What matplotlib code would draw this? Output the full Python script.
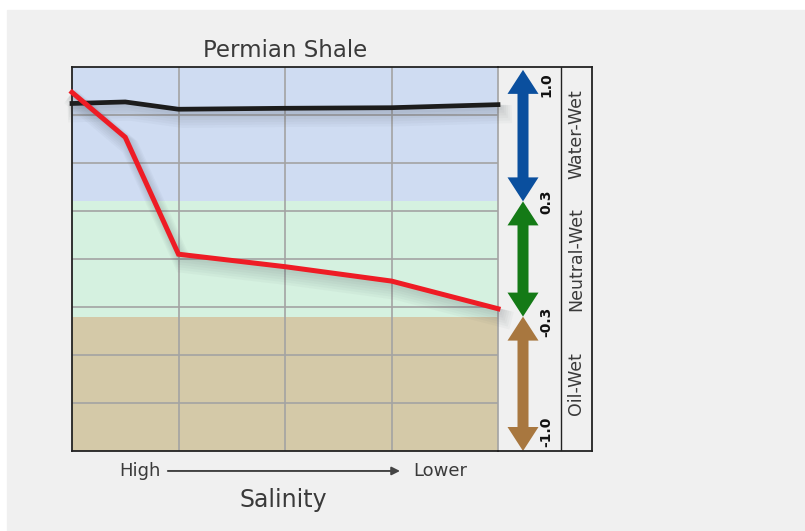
import matplotlib
matplotlib.use("Agg")
import matplotlib.pyplot as plt
import matplotlib.patheffects as pe
from matplotlib.patches import Rectangle, Polygon

# salinity steps (High -> Lower) and wettability index readings
x_pos = [0, 0.5, 1, 2, 3, 4]
black_vals = [0.81, 0.818, 0.78, 0.785, 0.788, 0.804]
red_vals = [0.868, 0.634, 0.025, -0.04, -0.115, -0.259]

# wettability bands
band_names = ["Oil-Wet", "Neutral-Wet", "Water-Wet"]
band_edges = [-1.0, -0.3, 0.3, 1.0]
band_fill = ["#d4c9a8", "#d5f1e0", "#cfdcf2"]
band_arrow = ["#a8773f", "#147a16", "#0a4f9e"]
edge_labels = ["-1.0", "-0.3", "0.3", "1.0"]

text_col = "#3a3a3a"
grid_col = "#a3a3a3"
dark = "#222222"

W, H = 805, 531
fig = plt.figure(figsize=(W / 100, H / 100), dpi=100, facecolor="white")
fig.patches.append(Rectangle((7 / W, 0), 1, 1 - 10 / H, transform=fig.transFigure,
                             color="#f0f0f0", zorder=-10))


def px_axes(x0, x1, y0, y1):
    return fig.add_axes([x0 / W, (H - y1) / H, (x1 - x0) / W, (y1 - y0) / H])


ax = px_axes(72, 498, 67, 451)
ax2 = px_axes(498, 592, 67, 451)

# main panel
ax.set_xlim(0, 4)
ax.set_ylim(-1, 1)
for lo, hi, c in zip(band_edges[:-1], band_edges[1:], band_fill):
    ax.axhspan(lo, hi, color=c, lw=0, zorder=0.5)
ax.set_xticks([1, 2, 3])
ax.set_yticks([-0.75, -0.5, -0.25, 0, 0.25, 0.5, 0.75])
ax.grid(True, color=grid_col, lw=1.2)
ax.tick_params(length=0, labelbottom=False, labelleft=False)
ax.set_facecolor("none")
for s in ["left", "top", "bottom"]:
    ax.spines[s].set_color(dark)
    ax.spines[s].set_linewidth(1.3)
ax.spines["right"].set_color(grid_col)
ax.spines["right"].set_linewidth(1.2)

# soft drop shadow built from stacked faint strokes
shadow = [pe.SimpleLineShadow(offset=(1 + k * 0.5, -2 - k * 1.0), shadow_color="#3c4650",
                              alpha=0.035, linewidth=4 + k * 1.8) for k in range(6)]
ax.plot(x_pos, black_vals, color="#1c1c1c", lw=3.4, zorder=3, clip_on=False,
        solid_joinstyle="miter", path_effects=shadow + [pe.Normal()])
ax.plot(x_pos, red_vals, color="#ee1c25", lw=3.6, zorder=4, clip_on=False,
        solid_joinstyle="miter", path_effects=shadow + [pe.Normal()])

ax.text(0.5, 1.026, "Permian Shale", transform=ax.transAxes, ha="center",
        va="baseline", fontsize=16.5, color=text_col)

ax.annotate("", xy=(0.77, -0.052), xytext=(0.225, -0.052), xycoords="axes fraction",
            arrowprops=dict(arrowstyle="-|>", color="#444444", lw=1.4,
                            mutation_scale=12, shrinkA=0, shrinkB=0))
ax.text(0.207, -0.052, "High", transform=ax.transAxes, ha="right", va="center",
        fontsize=13, color=text_col)
ax.text(0.80, -0.052, "Lower", transform=ax.transAxes, ha="left", va="center",
        fontsize=13, color=text_col)
ax.text(0.495, -0.128, "Salinity", transform=ax.transAxes, ha="center", va="center",
        fontsize=17, color=text_col)

# side scale
ax2.set_xlim(0, 94)
ax2.set_ylim(-1, 1)
ax2.set_xticks([])
ax2.set_yticks([])
ax2.set_facecolor("none")
ax2.spines["left"].set_visible(False)
for s in ["top", "bottom", "right"]:
    ax2.spines[s].set_color(dark)
    ax2.spines[s].set_linewidth(1.3)
ax2.axvline(63, color=dark, lw=1.0)

cx, hw, sw, hl = 25, 15.5, 5.5, 0.125
for lo, hi, c, name in zip(band_edges[:-1], band_edges[1:], band_arrow, band_names):
    top = min(hi, 0.985)
    bot = lo
    pts = [(cx - sw, top - hl), (cx - hw, top - hl), (cx, top), (cx + hw, top - hl),
           (cx + sw, top - hl), (cx + sw, bot + hl), (cx + hw, bot + hl), (cx, bot),
           (cx - hw, bot + hl), (cx - sw, bot + hl)]
    ax2.add_patch(Polygon(pts, closed=True, color=c, lw=0))
    ax2.text(78, (lo + hi) / 2, name, rotation=90, ha="center", va="center",
             fontsize=12.5, color=text_col)

label_y = [-0.9, -0.33, 0.3, 0.91]
for y, lab in zip(label_y, edge_labels):
    ax2.text(48, y, lab, rotation=90, ha="center", va="center", fontsize=10,
             color="#111111", fontweight="semibold")

fig.savefig("out.png", dpi=100, facecolor=fig.get_facecolor())
